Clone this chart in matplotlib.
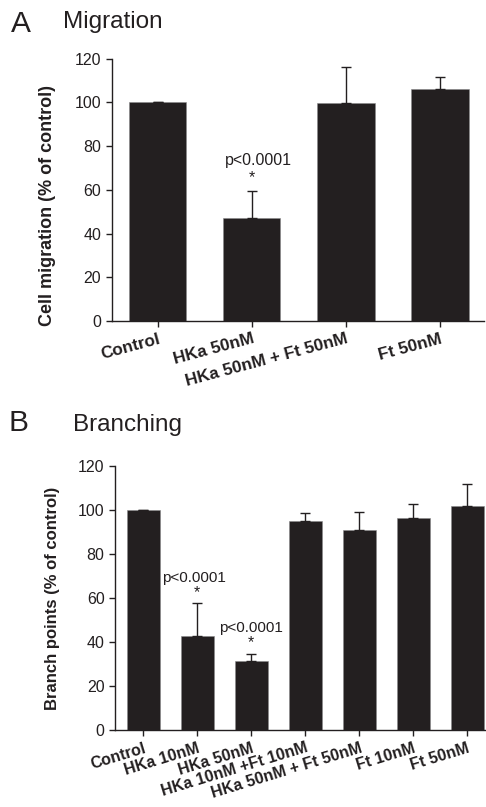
import matplotlib
matplotlib.use("Agg")
import matplotlib.pyplot as plt
import numpy as np

plt.rcParams['font.family'] = ['Liberation Sans', 'DejaVu Sans']

# Panel A data
a_labels = ["Control", "HKa 50nM", "HKa 50nM + Ft 50nM", "Ft 50nM"]
a_values = [100, 47.2, 99.6, 105.9]
a_errors = [0, 12.4, 16.5, 5.5]

# Panel B data
b_labels = ["Control", "HKa 10nM", "HKa 50nM", "HKa 10nM +Ft 10nM",
            "HKa 50nM + Ft 50nM", "Ft 10nM", "Ft 50nM"]
b_values = [100, 42.7, 31.5, 95.0, 90.9, 96.2, 101.8]
b_errors = [0, 14.9, 3.0, 3.8, 8.1, 6.4, 9.9]

yticks = [0, 20, 40, 60, 80, 100, 120]
bar_color = "#231f20"
txt_color = "#231f20"

fig = plt.figure(figsize=(4.86, 8.07), dpi=100)

def style(ax, xlim):
    ax.set_xlim(*xlim)
    ax.set_ylim(0, 120)
    ax.set_yticks(yticks)
    ax.spines['top'].set_visible(False)
    ax.spines['right'].set_visible(False)
    for s in ['left', 'bottom']:
        ax.spines[s].set_linewidth(1.0)
        ax.spines[s].set_color(txt_color)
    ax.tick_params(axis='both', direction='out', length=4, width=1,
                   color=txt_color, labelcolor=txt_color, labelsize=11.5)

def draw(ax, labels, values, errors, width, fs, rot):
    x = np.arange(len(labels))
    ax.bar(x, values, width=width, color=bar_color, edgecolor='#8a8a8a',
           linewidth=0.4, zorder=2)
    ax.errorbar(x, values, yerr=[np.zeros(len(errors)), errors], fmt='none',
                ecolor=bar_color, elinewidth=1.0, capsize=3.5, capthick=1.0,
                zorder=3)
    ax.set_xticks(x)
    ax.set_xticklabels(labels, rotation=rot, ha='right', rotation_mode='anchor',
                       fontweight='bold', fontsize=fs, color=txt_color)
    return x

# Panel A
axA = fig.add_axes([0.2298, 0.6022, 0.996 - 0.2298, 0.9274 - 0.6022])
style(axA, (-0.49, 3.47))
xa = draw(axA, a_labels, a_values, a_errors, 0.61, 12.3, 15)
axA.set_ylabel("Cell migration (% of control)", fontweight='bold',
               fontsize=13, color=txt_color)
axA.yaxis.set_label_coords(-0.15, 0.44)
axA.text(xa[1] + 0.07, 73.5, "p<0.0001", ha='center',
         va='center', fontsize=11.5, color=txt_color)
axA.text(xa[1], 65.5, "*", ha='center',
         va='center', fontsize=11.5, color=txt_color)

# Panel B
axB = fig.add_axes([0.2366, 0.0954, 0.998 - 0.2366, 0.4225 - 0.0954])
style(axB, (-0.52, 6.33))
xb = draw(axB, b_labels, b_values, b_errors, 0.61, 11.5, 17)
axB.set_ylabel("Branch points (% of control)", fontweight='bold',
               fontsize=12, color=txt_color, labelpad=13)
axB.text(xb[1] - 0.05, 69, "p<0.0001", ha='center', va='center',
         fontsize=11, color=txt_color)
axB.text(xb[1], 62.5, "*", ha='center', va='center', fontsize=11.5, color=txt_color)
axB.text(xb[2], 46.4, "p<0.0001", ha='center', va='center',
         fontsize=11, color=txt_color)
axB.text(xb[2], 39.5, "*", ha='center', va='center', fontsize=11.5, color=txt_color)

# Panel titles
fig.text(11 / 486, 1 - 24 / 807, "A", fontsize=21.5, va='center', ha='left',
         color=txt_color)
fig.text(63 / 486, 1 - 22 / 807, "Migration", fontsize=17.5, va='center',
         ha='left', color=txt_color)
fig.text(8 / 486, 1 - 423 / 807, "B", fontsize=21.5, va='center', ha='left',
         color=txt_color)
fig.text(73 / 486, 1 - 425 / 807, "Branching", fontsize=17.5, va='center',
         ha='left', color=txt_color)

fig.savefig("out.png", dpi=100)
